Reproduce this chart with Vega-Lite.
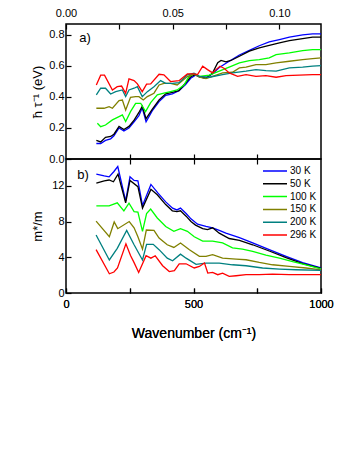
{
"$schema":"https://vega.github.io/schema/vega-lite/v6.json",
"padding":{"left":30,"top":6,"right":5,"bottom":5},
"background":"white",
"config":{
 "view":{"stroke":"black","strokeWidth":1.5},
 "font":"Liberation Sans",
 "axis":{"grid":false,"domain":false,"tickColor":"black","tickSize":-5,"tickWidth":1.2,"labelFont":"Liberation Sans","labelFontSize":11,"labelColor":"black","titleFont":"Liberation Sans","titleFontSize":13,"titleFontWeight":"normal","titleColor":"black","labelFlush":false,"labelOverlap":false}
},
"datasets":{
"tau":[
{"T":"30 K","wn":119,"v":0.10},{"T":"30 K","wn":136,"v":0.10},{"T":"30 K","wn":155,"v":0.12},{"T":"30 K","wn":175,"v":0.13},{"T":"30 K","wn":188,"v":0.15},{"T":"30 K","wn":208,"v":0.20},{"T":"30 K","wn":227,"v":0.18},{"T":"30 K","wn":247,"v":0.20},{"T":"30 K","wn":267,"v":0.24},{"T":"30 K","wn":286,"v":0.28},{"T":"30 K","wn":299,"v":0.33},{"T":"30 K","wn":314,"v":0.24},{"T":"30 K","wn":338,"v":0.31},{"T":"30 K","wn":365,"v":0.37},{"T":"30 K","wn":391,"v":0.41},{"T":"30 K","wn":417,"v":0.42},{"T":"30 K","wn":443,"v":0.44},{"T":"30 K","wn":469,"v":0.48},{"T":"30 K","wn":489,"v":0.52},{"T":"30 K","wn":508,"v":0.54},{"T":"30 K","wn":523,"v":0.53},{"T":"30 K","wn":549,"v":0.52},{"T":"30 K","wn":575,"v":0.55},{"T":"30 K","wn":601,"v":0.59},{"T":"30 K","wn":640,"v":0.63},{"T":"30 K","wn":680,"v":0.67},{"T":"30 K","wn":719,"v":0.70},{"T":"30 K","wn":758,"v":0.73},{"T":"30 K","wn":797,"v":0.755},{"T":"30 K","wn":837,"v":0.77},{"T":"30 K","wn":876,"v":0.785},{"T":"30 K","wn":928,"v":0.80},{"T":"30 K","wn":967,"v":0.806},{"T":"30 K","wn":1000,"v":0.806},
{"T":"50 K","wn":119,"v":0.12},{"T":"50 K","wn":136,"v":0.11},{"T":"50 K","wn":155,"v":0.14},{"T":"50 K","wn":175,"v":0.145},{"T":"50 K","wn":188,"v":0.16},{"T":"50 K","wn":208,"v":0.21},{"T":"50 K","wn":227,"v":0.19},{"T":"50 K","wn":247,"v":0.21},{"T":"50 K","wn":267,"v":0.25},{"T":"50 K","wn":286,"v":0.30},{"T":"50 K","wn":299,"v":0.34},{"T":"50 K","wn":314,"v":0.26},{"T":"50 K","wn":338,"v":0.32},{"T":"50 K","wn":365,"v":0.38},{"T":"50 K","wn":391,"v":0.42},{"T":"50 K","wn":417,"v":0.43},{"T":"50 K","wn":443,"v":0.44},{"T":"50 K","wn":469,"v":0.49},{"T":"50 K","wn":489,"v":0.53},{"T":"50 K","wn":508,"v":0.545},{"T":"50 K","wn":523,"v":0.53},{"T":"50 K","wn":549,"v":0.52},{"T":"50 K","wn":575,"v":0.555},{"T":"50 K","wn":595,"v":0.62},{"T":"50 K","wn":608,"v":0.635},{"T":"50 K","wn":627,"v":0.626},{"T":"50 K","wn":647,"v":0.635},{"T":"50 K","wn":680,"v":0.662},{"T":"50 K","wn":719,"v":0.695},{"T":"50 K","wn":758,"v":0.716},{"T":"50 K","wn":797,"v":0.733},{"T":"50 K","wn":837,"v":0.748},{"T":"50 K","wn":876,"v":0.763},{"T":"50 K","wn":928,"v":0.776},{"T":"50 K","wn":967,"v":0.785},{"T":"50 K","wn":1000,"v":0.785},
{"T":"100 K","wn":123,"v":0.23},{"T":"100 K","wn":136,"v":0.208},{"T":"100 K","wn":155,"v":0.219},{"T":"100 K","wn":182,"v":0.252},{"T":"100 K","wn":208,"v":0.273},{"T":"100 K","wn":221,"v":0.284},{"T":"100 K","wn":234,"v":0.241},{"T":"100 K","wn":253,"v":0.305},{"T":"100 K","wn":273,"v":0.359},{"T":"100 K","wn":293,"v":0.359},{"T":"100 K","wn":312,"v":0.305},{"T":"100 K","wn":332,"v":0.363},{"T":"100 K","wn":358,"v":0.413},{"T":"100 K","wn":384,"v":0.424},{"T":"100 K","wn":410,"v":0.434},{"T":"100 K","wn":436,"v":0.445},{"T":"100 K","wn":463,"v":0.477},{"T":"100 K","wn":482,"v":0.531},{"T":"100 K","wn":502,"v":0.548},{"T":"100 K","wn":523,"v":0.533},{"T":"100 K","wn":562,"v":0.54},{"T":"100 K","wn":601,"v":0.566},{"T":"100 K","wn":640,"v":0.592},{"T":"100 K","wn":680,"v":0.619},{"T":"100 K","wn":719,"v":0.634},{"T":"100 K","wn":758,"v":0.641},{"T":"100 K","wn":797,"v":0.652},{"T":"100 K","wn":824,"v":0.673},{"T":"100 K","wn":876,"v":0.684},{"T":"100 K","wn":928,"v":0.699},{"T":"100 K","wn":967,"v":0.705},{"T":"100 K","wn":1000,"v":0.705},
{"T":"150 K","wn":119,"v":0.327},{"T":"150 K","wn":149,"v":0.327},{"T":"150 K","wn":169,"v":0.337},{"T":"150 K","wn":182,"v":0.327},{"T":"150 K","wn":208,"v":0.376},{"T":"150 K","wn":221,"v":0.38},{"T":"150 K","wn":234,"v":0.316},{"T":"150 K","wn":253,"v":0.398},{"T":"150 K","wn":273,"v":0.402},{"T":"150 K","wn":286,"v":0.402},{"T":"150 K","wn":303,"v":0.38},{"T":"150 K","wn":319,"v":0.402},{"T":"150 K","wn":345,"v":0.424},{"T":"150 K","wn":365,"v":0.477},{"T":"150 K","wn":384,"v":0.488},{"T":"150 K","wn":410,"v":0.488},{"T":"150 K","wn":436,"v":0.477},{"T":"150 K","wn":476,"v":0.531},{"T":"150 K","wn":502,"v":0.548},{"T":"150 K","wn":523,"v":0.527},{"T":"150 K","wn":549,"v":0.518},{"T":"150 K","wn":575,"v":0.533},{"T":"150 K","wn":614,"v":0.555},{"T":"150 K","wn":653,"v":0.559},{"T":"150 K","wn":680,"v":0.587},{"T":"150 K","wn":706,"v":0.592},{"T":"150 K","wn":745,"v":0.608},{"T":"150 K","wn":784,"v":0.608},{"T":"150 K","wn":824,"v":0.619},{"T":"150 K","wn":876,"v":0.63},{"T":"150 K","wn":928,"v":0.641},{"T":"150 K","wn":967,"v":0.647},{"T":"150 K","wn":1000,"v":0.652},
{"T":"200 K","wn":119,"v":0.413},{"T":"200 K","wn":136,"v":0.456},{"T":"200 K","wn":155,"v":0.456},{"T":"200 K","wn":175,"v":0.419},{"T":"200 K","wn":195,"v":0.434},{"T":"200 K","wn":221,"v":0.445},{"T":"200 K","wn":234,"v":0.402},{"T":"200 K","wn":247,"v":0.445},{"T":"200 K","wn":267,"v":0.456},{"T":"200 K","wn":280,"v":0.466},{"T":"200 K","wn":299,"v":0.402},{"T":"200 K","wn":319,"v":0.434},{"T":"200 K","wn":345,"v":0.466},{"T":"200 K","wn":371,"v":0.505},{"T":"200 K","wn":391,"v":0.488},{"T":"200 K","wn":417,"v":0.488},{"T":"200 K","wn":443,"v":0.492},{"T":"200 K","wn":476,"v":0.542},{"T":"200 K","wn":502,"v":0.553},{"T":"200 K","wn":523,"v":0.533},{"T":"200 K","wn":562,"v":0.527},{"T":"200 K","wn":614,"v":0.544},{"T":"200 K","wn":653,"v":0.555},{"T":"200 K","wn":706,"v":0.566},{"T":"200 K","wn":745,"v":0.576},{"T":"200 K","wn":784,"v":0.57},{"T":"200 K","wn":824,"v":0.566},{"T":"200 K","wn":876,"v":0.587},{"T":"200 K","wn":928,"v":0.592},{"T":"200 K","wn":967,"v":0.598},{"T":"200 K","wn":1000,"v":0.602},
{"T":"296 K","wn":119,"v":0.477},{"T":"296 K","wn":136,"v":0.54},{"T":"296 K","wn":151,"v":0.54},{"T":"296 K","wn":182,"v":0.445},{"T":"296 K","wn":201,"v":0.466},{"T":"296 K","wn":218,"v":0.47},{"T":"296 K","wn":234,"v":0.424},{"T":"296 K","wn":247,"v":0.516},{"T":"296 K","wn":267,"v":0.505},{"T":"296 K","wn":280,"v":0.484},{"T":"296 K","wn":299,"v":0.434},{"T":"296 K","wn":316,"v":0.482},{"T":"296 K","wn":332,"v":0.484},{"T":"296 K","wn":365,"v":0.546},{"T":"296 K","wn":384,"v":0.542},{"T":"296 K","wn":410,"v":0.499},{"T":"296 K","wn":443,"v":0.505},{"T":"296 K","wn":476,"v":0.548},{"T":"296 K","wn":502,"v":0.548},{"T":"296 K","wn":516,"v":0.544},{"T":"296 K","wn":536,"v":0.598},{"T":"296 K","wn":555,"v":0.576},{"T":"296 K","wn":575,"v":0.555},{"T":"296 K","wn":588,"v":0.576},{"T":"296 K","wn":604,"v":0.598},{"T":"296 K","wn":621,"v":0.583},{"T":"296 K","wn":640,"v":0.555},{"T":"296 K","wn":673,"v":0.533},{"T":"296 K","wn":706,"v":0.544},{"T":"296 K","wn":745,"v":0.533},{"T":"296 K","wn":784,"v":0.537},{"T":"296 K","wn":824,"v":0.527},{"T":"296 K","wn":863,"v":0.537},{"T":"296 K","wn":915,"v":0.54},{"T":"296 K","wn":967,"v":0.544},{"T":"296 K","wn":1000,"v":0.544}
],
"mass":[
{"T":"30 K","wn":119,"v":13.3},{"T":"30 K","wn":150,"v":13.1},{"T":"30 K","wn":169,"v":13.0},{"T":"30 K","wn":188,"v":13.6},{"T":"30 K","wn":203,"v":14.15},{"T":"30 K","wn":234,"v":10.3},{"T":"30 K","wn":251,"v":13.0},{"T":"30 K","wn":267,"v":12.6},{"T":"30 K","wn":282,"v":12.55},{"T":"30 K","wn":300,"v":9.8},{"T":"30 K","wn":333,"v":12.15},{"T":"30 K","wn":360,"v":11.2},{"T":"30 K","wn":391,"v":10.2},{"T":"30 K","wn":418,"v":9.5},{"T":"30 K","wn":435,"v":9.3},{"T":"30 K","wn":449,"v":9.5},{"T":"30 K","wn":471,"v":8.9},{"T":"30 K","wn":490,"v":8.3},{"T":"30 K","wn":516,"v":7.7},{"T":"30 K","wn":549,"v":7.45},{"T":"30 K","wn":575,"v":7.3},{"T":"30 K","wn":601,"v":7.0},{"T":"30 K","wn":627,"v":6.7},{"T":"30 K","wn":680,"v":6.2},{"T":"30 K","wn":732,"v":5.6},{"T":"30 K","wn":797,"v":4.85},{"T":"30 K","wn":863,"v":4.1},{"T":"30 K","wn":928,"v":3.4},{"T":"30 K","wn":1000,"v":2.8},
{"T":"50 K","wn":119,"v":12.3},{"T":"50 K","wn":150,"v":12.55},{"T":"50 K","wn":169,"v":12.65},{"T":"50 K","wn":186,"v":12.45},{"T":"50 K","wn":204,"v":13.3},{"T":"50 K","wn":234,"v":10.1},{"T":"50 K","wn":251,"v":12.6},{"T":"50 K","wn":282,"v":11.9},{"T":"50 K","wn":300,"v":9.5},{"T":"50 K","wn":333,"v":11.6},{"T":"50 K","wn":358,"v":11.0},{"T":"50 K","wn":391,"v":9.9},{"T":"50 K","wn":417,"v":9.2},{"T":"50 K","wn":435,"v":9.1},{"T":"50 K","wn":449,"v":9.2},{"T":"50 K","wn":471,"v":8.6},{"T":"50 K","wn":490,"v":8.0},{"T":"50 K","wn":508,"v":7.6},{"T":"50 K","wn":536,"v":7.2},{"T":"50 K","wn":555,"v":7.1},{"T":"50 K","wn":575,"v":7.3},{"T":"50 K","wn":601,"v":6.7},{"T":"50 K","wn":640,"v":6.1},{"T":"50 K","wn":680,"v":5.9},{"T":"50 K","wn":732,"v":5.4},{"T":"50 K","wn":797,"v":4.7},{"T":"50 K","wn":863,"v":3.95},{"T":"50 K","wn":928,"v":3.3},{"T":"50 K","wn":1000,"v":2.75},
{"T":"100 K","wn":119,"v":9.75},{"T":"100 K","wn":169,"v":9.75},{"T":"100 K","wn":201,"v":10.1},{"T":"100 K","wn":227,"v":9.2},{"T":"100 K","wn":247,"v":10.05},{"T":"100 K","wn":267,"v":9.1},{"T":"100 K","wn":282,"v":9.05},{"T":"100 K","wn":300,"v":6.9},{"T":"100 K","wn":316,"v":8.9},{"T":"100 K","wn":332,"v":9.4},{"T":"100 K","wn":358,"v":8.4},{"T":"100 K","wn":391,"v":7.45},{"T":"100 K","wn":423,"v":6.9},{"T":"100 K","wn":449,"v":7.2},{"T":"100 K","wn":476,"v":6.9},{"T":"100 K","wn":503,"v":6.3},{"T":"100 K","wn":536,"v":5.8},{"T":"100 K","wn":575,"v":5.8},{"T":"100 K","wn":614,"v":5.6},{"T":"100 K","wn":653,"v":5.05},{"T":"100 K","wn":692,"v":4.9},{"T":"100 K","wn":732,"v":4.65},{"T":"100 K","wn":784,"v":4.25},{"T":"100 K","wn":837,"v":3.9},{"T":"100 K","wn":889,"v":3.5},{"T":"100 K","wn":941,"v":3.15},{"T":"100 K","wn":1000,"v":2.7},
{"T":"150 K","wn":118,"v":8.05},{"T":"150 K","wn":170,"v":6.3},{"T":"150 K","wn":189,"v":7.95},{"T":"150 K","wn":203,"v":7.2},{"T":"150 K","wn":248,"v":8.0},{"T":"150 K","wn":267,"v":7.3},{"T":"150 K","wn":282,"v":6.3},{"T":"150 K","wn":300,"v":4.9},{"T":"150 K","wn":315,"v":7.05},{"T":"150 K","wn":345,"v":7.0},{"T":"150 K","wn":365,"v":6.15},{"T":"150 K","wn":397,"v":5.4},{"T":"150 K","wn":423,"v":5.1},{"T":"150 K","wn":449,"v":5.6},{"T":"150 K","wn":484,"v":4.84},{"T":"150 K","wn":523,"v":4.1},{"T":"150 K","wn":549,"v":4.1},{"T":"150 K","wn":575,"v":4.3},{"T":"150 K","wn":614,"v":3.9},{"T":"150 K","wn":667,"v":3.8},{"T":"150 K","wn":706,"v":3.72},{"T":"150 K","wn":758,"v":3.42},{"T":"150 K","wn":810,"v":3.16},{"T":"150 K","wn":876,"v":2.97},{"T":"150 K","wn":941,"v":2.8},{"T":"150 K","wn":1000,"v":2.6},
{"T":"200 K","wn":118,"v":6.5},{"T":"200 K","wn":170,"v":3.7},{"T":"200 K","wn":201,"v":5.0},{"T":"200 K","wn":238,"v":7.0},{"T":"200 K","wn":267,"v":5.4},{"T":"200 K","wn":300,"v":3.7},{"T":"200 K","wn":316,"v":5.45},{"T":"200 K","wn":342,"v":5.45},{"T":"200 K","wn":365,"v":4.85},{"T":"200 K","wn":397,"v":3.9},{"T":"200 K","wn":418,"v":3.6},{"T":"200 K","wn":449,"v":4.35},{"T":"200 K","wn":471,"v":3.9},{"T":"200 K","wn":510,"v":3.2},{"T":"200 K","wn":549,"v":3.35},{"T":"200 K","wn":601,"v":3.35},{"T":"200 K","wn":653,"v":3.16},{"T":"200 K","wn":706,"v":3.05},{"T":"200 K","wn":771,"v":2.8},{"T":"200 K","wn":837,"v":2.68},{"T":"200 K","wn":902,"v":2.6},{"T":"200 K","wn":1000,"v":2.53},
{"T":"296 K","wn":118,"v":4.85},{"T":"296 K","wn":170,"v":2.15},{"T":"296 K","wn":188,"v":2.35},{"T":"296 K","wn":202,"v":2.8},{"T":"296 K","wn":235,"v":5.5},{"T":"296 K","wn":253,"v":4.2},{"T":"296 K","wn":267,"v":3.4},{"T":"296 K","wn":285,"v":2.3},{"T":"296 K","wn":314,"v":4.17},{"T":"296 K","wn":333,"v":3.9},{"T":"296 K","wn":350,"v":4.17},{"T":"296 K","wn":379,"v":3.05},{"T":"296 K","wn":405,"v":2.4},{"T":"296 K","wn":425,"v":2.5},{"T":"296 K","wn":444,"v":3.27},{"T":"296 K","wn":471,"v":3.27},{"T":"296 K","wn":503,"v":2.8},{"T":"296 K","wn":523,"v":2.97},{"T":"296 K","wn":543,"v":3.35},{"T":"296 K","wn":556,"v":2.23},{"T":"296 K","wn":575,"v":2.3},{"T":"296 K","wn":595,"v":2.05},{"T":"296 K","wn":614,"v":2.23},{"T":"296 K","wn":640,"v":1.86},{"T":"296 K","wn":667,"v":1.93},{"T":"296 K","wn":706,"v":2.05},{"T":"296 K","wn":758,"v":2.05},{"T":"296 K","wn":810,"v":2.12},{"T":"296 K","wn":876,"v":2.05},{"T":"296 K","wn":941,"v":2.05},{"T":"296 K","wn":1000,"v":2.05}
]
},
"spacing":0,
"bounds":"flush",
"vconcat":[
{
 "width":255,"height":135,
 "layer":[
  {
   "layer":[
    {"data":{"name":"tau"},"mark":{"type":"line","strokeWidth":1.3},
     "encoding":{
      "x":{"field":"wn","type":"quantitative","scale":{"domain":[0,1000],"nice":false},"axis":{"orient":"bottom","values":[250,500,750],"labels":false,"title":null}},
      "y":{"field":"v","type":"quantitative","scale":{"domain":[0,0.87],"nice":false},"axis":{"values":[0,0.2,0.4,0.6,0.8],"format":".1f","title":"ħ τ⁻¹  (eV)","labelPadding":7,"titlePadding":4,"labelOverlap":false}},
      "color":{"field":"T","type":"nominal","scale":{"domain":["30 K","50 K","100 K","150 K","200 K","296 K"],"range":["#0000ff","#000000","#00ff00","#808000","#008080","#ff0000"]},"legend":null}
     }},
    {"data":{"values":[{"lab":"a)"}]},"mark":{"type":"text","align":"left","baseline":"middle","fontSize":13,"font":"Liberation Sans","color":"black"},
     "encoding":{
      "x":{"datum":52,"type":"quantitative","scale":{"domain":[0,1000],"nice":false},"axis":{"orient":"bottom","values":[250,500,750],"labels":false,"title":null}},
      "y":{"datum":0.78,"type":"quantitative","scale":{"domain":[0,0.87],"nice":false},"axis":{"values":[0,0.2,0.4,0.6,0.8],"format":".1f","title":"ħ τ⁻¹  (eV)","labelPadding":7,"titlePadding":4,"labelOverlap":false}},
      "text":{"field":"lab"}}}
   ]
  },
  {"data":{"values":[{"ev":0},{"ev":0.1195}]},"mark":{"type":"point","opacity":0},
   "encoding":{"x":{"field":"ev","type":"quantitative","scale":{"domain":[0,0.1195],"nice":false},"axis":{"orient":"top","values":[0,0.025,0.05,0.075,0.1],"labelExpr":"round(datum.value*1000) % 50 == 0 ? format(datum.value, '.2f') : ''","title":null,"labelPadding":11}}}}
 ],
 "resolve":{"scale":{"x":"independent"},"axis":{"x":"independent"}}
},
{
 "width":255,"height":134,
 "layer":[
  {"data":{"name":"mass"},"mark":{"type":"line","strokeWidth":1.3},
   "encoding":{
    "x":{"field":"wn","type":"quantitative","scale":{"domain":[0,1000],"nice":false},"axis":{"orient":"bottom","values":[0,250,500,750,1000],"labelExpr":"datum.value % 500 === 0 ? format(datum.value, 'd') : ''","title":"Wavenumber (cm⁻¹)","titleFontSize":14,"labelPadding":10,"titlePadding":17}},
    "y":{"field":"v","type":"quantitative","scale":{"domain":[0,15],"nice":false},"axis":{"values":[0,4,8,12],"title":"m*/m","labelPadding":7,"titlePadding":7,"labelOverlap":false}},
    "color":{"field":"T","type":"nominal","scale":{"domain":["30 K","50 K","100 K","150 K","200 K","296 K"],"range":["#0000ff","#000000","#00ff00","#808000","#008080","#ff0000"]},
     "legend":{"orient":"none","legendX":196,"legendY":7,"title":null,"symbolType":"stroke","symbolSize":576,"symbolStrokeWidth":1.5,"labelFontSize":10,"labelFont":"Liberation Sans","labelColor":"black","labelOffset":2,"clipHeight":10,"rowPadding":2.8,"padding":0}}
   }},
  {"data":{"values":[{"lab":"b)"}]},"mark":{"type":"text","align":"left","baseline":"middle","fontSize":13,"font":"Liberation Sans","color":"black"},
   "encoding":{
    "x":{"datum":44,"type":"quantitative","scale":{"domain":[0,1000],"nice":false},"axis":{"orient":"bottom","values":[0,250,500,750,1000],"labelExpr":"datum.value % 500 === 0 ? format(datum.value, 'd') : ''","title":"Wavenumber (cm⁻¹)","titleFontSize":14,"labelPadding":10,"titlePadding":17}},
    "y":{"datum":13.2,"type":"quantitative","scale":{"domain":[0,15],"nice":false},"axis":{"values":[0,4,8,12],"title":"m*/m","labelPadding":7,"titlePadding":7,"labelOverlap":false}},
    "text":{"field":"lab"}}},
  {"data":{"values":[{"wn":0},{"wn":1000}]},"mark":{"type":"point","opacity":0},
   "encoding":{"x":{"field":"wn","type":"quantitative","scale":{"domain":[0,1000],"nice":false},"axis":{"orient":"top","values":[250,500,750],"labels":false,"title":null}}}}
 ],
 "resolve":{"axis":{"x":"independent"}}
}
],
"resolve":{"legend":{"color":"independent"}}
}
